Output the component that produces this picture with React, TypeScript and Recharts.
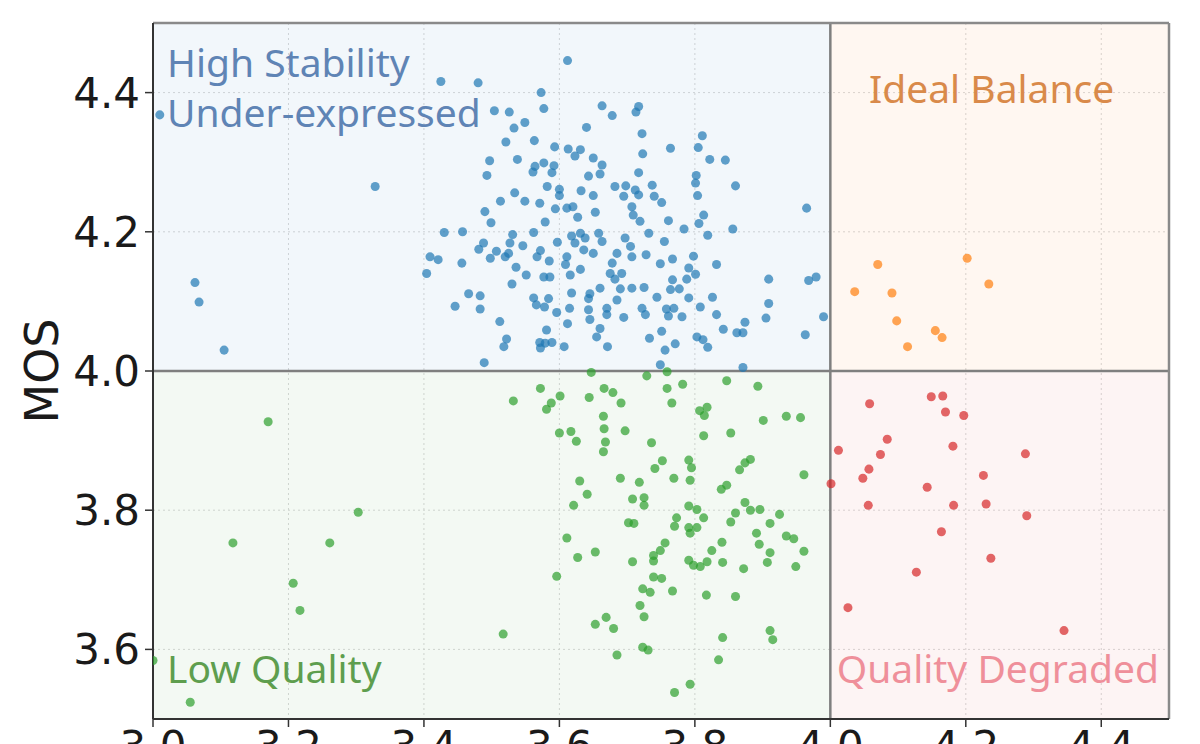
import { ScatterChart, Scatter, XAxis, YAxis, CartesianGrid, ReferenceArea, ReferenceLine } from "recharts";

// axis ticks
const xTicks = [3.0, 3.2, 3.4, 3.6, 3.8, 4.0, 4.2, 4.4];
const yTicks = [3.6, 3.8, 4.0, 4.2, 4.4];

// [stability, MOS]
const highStability: [number, number][] = [
  [3.010, 4.368], [3.062, 4.127], [3.068, 4.099], [3.105, 4.030], [3.328, 4.265],
  [3.425, 4.416], [3.480, 4.414], [3.612, 4.446], [3.573, 4.400], [3.577, 4.377], [3.504, 4.374],
  [3.526, 4.372], [3.663, 4.381], [3.678, 4.367], [3.549, 4.357], [3.533, 4.349], [3.640, 4.350],
  [3.521, 4.329], [3.563, 4.331], [3.593, 4.322], [3.613, 4.319], [3.631, 4.318], [3.623, 4.309],
  [3.650, 4.306], [3.497, 4.302], [3.538, 4.304], [3.564, 4.294], [3.577, 4.299], [3.592, 4.295],
  [3.561, 4.286], [3.589, 4.285], [3.663, 4.296], [3.660, 4.283], [3.493, 4.281], [3.643, 4.280],
  [3.582, 4.265], [3.600, 4.261], [3.600, 4.252], [3.632, 4.259], [3.650, 4.252], [3.682, 4.265],
  [3.534, 4.256],
  [3.717, 4.380], [3.713, 4.372], [3.722, 4.341], [3.764, 4.320], [3.811, 4.338], [3.805, 4.321],
  [3.822, 4.304], [3.845, 4.303], [3.723, 4.312], [3.717, 4.285], [3.802, 4.281], [3.801, 4.270],
  [3.860, 4.266], [3.698, 4.266], [3.737, 4.267], [3.712, 4.260], [3.717, 4.253], [3.695, 4.251],
  [3.740, 4.251], [3.804, 4.252],
  [3.490, 4.229], [3.499, 4.213], [3.513, 4.244], [3.549, 4.244], [3.571, 4.241], [3.594, 4.233],
  [3.611, 4.234], [3.620, 4.236], [3.579, 4.214], [3.627, 4.221], [3.653, 4.228], [3.430, 4.199],
  [3.457, 4.200], [3.531, 4.196], [3.562, 4.199], [3.631, 4.198], [3.618, 4.194], [3.638, 4.191],
  [3.658, 4.198], [3.488, 4.184], [3.481, 4.175], [3.527, 4.184], [3.546, 4.180], [3.597, 4.185],
  [3.623, 4.184], [3.663, 4.186], [3.507, 4.172], [3.525, 4.169], [3.498, 4.162], [3.520, 4.164],
  [3.572, 4.173], [3.567, 4.164], [3.585, 4.158], [3.611, 4.164], [3.636, 4.174], [3.650, 4.169],
  [3.685, 4.169], [3.409, 4.164], [3.421, 4.160], [3.456, 4.155], [3.404, 4.140], [3.536, 4.149],
  [3.609, 4.153], [3.631, 4.146], [3.678, 4.155], [3.551, 4.138], [3.577, 4.135], [3.586, 4.135],
  [3.616, 4.138], [3.675, 4.140], [3.682, 4.132], [3.530, 4.125], [3.660, 4.119], [3.690, 4.118],
  [3.466, 4.111], [3.483, 4.108], [3.618, 4.112], [3.645, 4.111], [3.562, 4.105], [3.584, 4.104],
  [3.643, 4.104], [3.685, 4.102], [3.446, 4.093], [3.483, 4.089], [3.566, 4.095], [3.578, 4.092],
  [3.615, 4.090], [3.596, 4.084], [3.643, 4.088], [3.670, 4.090], [3.670, 4.081], [3.645, 4.074],
  [3.612, 4.068], [3.512, 4.071], [3.660, 4.061], [3.581, 4.059], [3.522, 4.046], [3.518, 4.035],
  [3.571, 4.041], [3.579, 4.040], [3.589, 4.041], [3.572, 4.033], [3.607, 4.035], [3.655, 4.049],
  [3.671, 4.035], [3.489, 4.012],
  [3.707, 4.236], [3.751, 4.242], [3.709, 4.224], [3.719, 4.215], [3.761, 4.216], [3.813, 4.224],
  [3.806, 4.212], [3.784, 4.204], [3.856, 4.204], [3.965, 4.234], [3.732, 4.198], [3.819, 4.195],
  [3.697, 4.191], [3.755, 4.186], [3.705, 4.179], [3.707, 4.164], [3.728, 4.167], [3.767, 4.161],
  [3.798, 4.165], [3.749, 4.154], [3.832, 4.153], [3.791, 4.148], [3.801, 4.139], [3.692, 4.140],
  [3.767, 4.131], [3.788, 4.132], [3.909, 4.132], [3.968, 4.130], [3.979, 4.135], [3.707, 4.119],
  [3.725, 4.120], [3.764, 4.117], [3.777, 4.118], [3.744, 4.106], [3.791, 4.105], [3.826, 4.106],
  [3.909, 4.097], [3.722, 4.090], [3.758, 4.089], [3.769, 4.090], [3.808, 4.092], [3.695, 4.077],
  [3.727, 4.081], [3.761, 4.079], [3.781, 4.078], [3.832, 4.081], [3.990, 4.078], [3.905, 4.076],
  [3.874, 4.070], [3.842, 4.060], [3.862, 4.055], [3.871, 4.055], [3.751, 4.057], [3.733, 4.047],
  [3.771, 4.039], [3.803, 4.049], [3.812, 4.045], [3.819, 4.034], [3.756, 4.030], [3.963, 4.052],
  [3.749, 4.009], [3.871, 4.005],
];

const idealBalance: [number, number][] = [
  [4.070, 4.153], [4.202, 4.162], [4.036, 4.114], [4.091, 4.112], [4.234, 4.125],
  [4.098, 4.072], [4.155, 4.058], [4.165, 4.048], [4.114, 4.035],
];

const lowQuality: [number, number][] = [
  [3.000, 3.584], [3.055, 3.524], [3.118, 3.753], [3.170, 3.927], [3.207, 3.695], [3.217, 3.656],
  [3.261, 3.753], [3.303, 3.797], [3.759, 3.999],
  [3.532, 3.957], [3.572, 3.975], [3.601, 3.964], [3.588, 3.954], [3.581, 3.945], [3.644, 3.962],
  [3.666, 3.975], [3.679, 3.969], [3.691, 3.954], [3.647, 3.998], [3.729, 3.993], [3.759, 3.975],
  [3.766, 3.954], [3.665, 3.935], [3.666, 3.917], [3.697, 3.914], [3.600, 3.911], [3.617, 3.913],
  [3.625, 3.899], [3.668, 3.898], [3.665, 3.884], [3.736, 3.897], [3.752, 3.871], [3.741, 3.860],
  [3.769, 3.846], [3.630, 3.842], [3.690, 3.846], [3.718, 3.840], [3.641, 3.823], [3.708, 3.816],
  [3.725, 3.818], [3.725, 3.807], [3.621, 3.807], [3.702, 3.782], [3.710, 3.781], [3.773, 3.789],
  [3.770, 3.777], [3.611, 3.760], [3.756, 3.753],
  [3.782, 3.981], [3.847, 3.986], [3.893, 3.978], [3.807, 3.943], [3.818, 3.948], [3.814, 3.936],
  [3.901, 3.929], [3.935, 3.935], [3.956, 3.933], [3.813, 3.907], [3.853, 3.911], [3.791, 3.872],
  [3.795, 3.861], [3.882, 3.873], [3.874, 3.868], [3.866, 3.858], [3.793, 3.843], [3.961, 3.851],
  [3.847, 3.836], [3.839, 3.830], [3.874, 3.811], [3.882, 3.800], [3.896, 3.801], [3.860, 3.796],
  [3.791, 3.806], [3.803, 3.801], [3.813, 3.789], [3.925, 3.794], [3.853, 3.783], [3.911, 3.781],
  [3.791, 3.775], [3.803, 3.775], [3.793, 3.767], [3.891, 3.767], [3.935, 3.763], [3.946, 3.759],
  [3.840, 3.754], [3.895, 3.751],
  [3.627, 3.732], [3.653, 3.740], [3.596, 3.705], [3.708, 3.726], [3.739, 3.735], [3.739, 3.727],
  [3.749, 3.742], [3.791, 3.728], [3.798, 3.721], [3.808, 3.719], [3.818, 3.726], [3.825, 3.742],
  [3.841, 3.725], [3.872, 3.716], [3.911, 3.739], [3.907, 3.725], [3.961, 3.741], [3.949, 3.719],
  [3.739, 3.704], [3.751, 3.702], [3.723, 3.687], [3.734, 3.682], [3.767, 3.684], [3.817, 3.678],
  [3.860, 3.676], [3.719, 3.663], [3.725, 3.647], [3.669, 3.646], [3.653, 3.636], [3.680, 3.630],
  [3.517, 3.622], [3.911, 3.627], [3.915, 3.614], [3.841, 3.617], [3.723, 3.603], [3.731, 3.599],
  [3.685, 3.592], [3.835, 3.585], [3.793, 3.550], [3.770, 3.538],
];

const qualityDegraded: [number, number][] = [
  [4.058, 3.953], [4.149, 3.963], [4.166, 3.964], [4.170, 3.941], [4.197, 3.936], [4.084, 3.902],
  [4.012, 3.886], [4.074, 3.880], [4.181, 3.892], [4.288, 3.881], [4.057, 3.859], [4.048, 3.846],
  [4.226, 3.850], [4.001, 3.838], [4.143, 3.833], [4.056, 3.807], [4.182, 3.807], [4.230, 3.809],
  [4.290, 3.792], [4.164, 3.769], [4.237, 3.731], [4.127, 3.711], [4.026, 3.660], [4.345, 3.627],
];

const toPoints = (arr: [number, number][]) => arr.map(([x, y]) => ({ x, y }));

const labelFont = "'Noto Sans', 'Open Sans', sans-serif";
const tickFont = "'DejaVu Sans', sans-serif";

export default function App() {
  return (
    <div style={{ position: "absolute", left: 0, top: 0, width: 1200, height: 744, background: "#fff" }}>
      <ScatterChart width={1200} height={744} margin={{ top: 23, right: 31, bottom: 0, left: 0 }}>
        <ReferenceArea
          x1={3.0} x2={4.0} y1={4.0} y2={4.5}
          fill="#1f77b4" fillOpacity={0.06} stroke="none"
          label={(p: any) => {
            const vb = p.viewBox;
            return (
              <g fontFamily={labelFont} fontSize={39} fill="#5f84b5">
                <text x={vb.x + 14} y={vb.y + 54}>High Stability</text>
                <text x={vb.x + 14} y={vb.y + 104}>Under-expressed</text>
              </g>
            );
          }}
        />
        <ReferenceArea
          x1={4.0} x2={4.5} y1={4.0} y2={4.5}
          fill="#ff7f0e" fillOpacity={0.06} stroke="none"
          label={(p: any) => {
            const vb = p.viewBox;
            return (
              <text x={vb.x + vb.width / 2 - 8} y={vb.y + 80} textAnchor="middle" fontFamily={labelFont} fontSize={39} fill="#d98a4a">
                Ideal Balance
              </text>
            );
          }}
        />
        <ReferenceArea
          x1={3.0} x2={4.0} y1={3.5} y2={4.0}
          fill="#2ca02c" fillOpacity={0.06} stroke="none"
          label={(p: any) => {
            const vb = p.viewBox;
            return (
              <text x={vb.x + 14} y={vb.y + vb.height - 36} fontFamily={labelFont} fontSize={39} fill="#5e9e4e">
                Low Quality
              </text>
            );
          }}
        />
        <ReferenceArea
          x1={4.0} x2={4.5} y1={3.5} y2={4.0}
          fill="#d62728" fillOpacity={0.05} stroke="none"
          label={(p: any) => {
            const vb = p.viewBox;
            return (
              <text x={vb.x + vb.width - 10} y={vb.y + vb.height - 36} textAnchor="end" fontFamily={labelFont} fontSize={39} fill="#ef8f9a">
                Quality Degraded
              </text>
            );
          }}
        />
        <CartesianGrid stroke="#d8d8d8" strokeDasharray="2 3" horizontalValues={yTicks} verticalValues={xTicks} />
        <XAxis
          type="number"
          dataKey="x"
          domain={[3.0, 4.5]}
          ticks={xTicks}
          allowDataOverflow
          height={25}
          tickSize={8}
          tickMargin={4}
          tickFormatter={(v) => Number(v).toFixed(1)}
          tick={{ fontSize: 42, fill: "#1a1a1a", fontFamily: tickFont }}
          axisLine={{ stroke: "#333", strokeWidth: 2 }}
          tickLine={{ stroke: "#333", strokeWidth: 1.5 }}
        />
        <YAxis
          type="number"
          dataKey="y"
          domain={[3.5, 4.5]}
          ticks={yTicks}
          allowDataOverflow
          width={153}
          tickSize={8}
          tickMargin={5}
          tickFormatter={(v) => Number(v).toFixed(1)}
          tick={{ fontSize: 42, fill: "#1a1a1a", fontFamily: tickFont }}
          axisLine={{ stroke: "#333", strokeWidth: 2 }}
          tickLine={{ stroke: "#333", strokeWidth: 1.5 }}
          label={(p: any) => {
            const vb = p.viewBox;
            const cx = 42;
            const cy = vb.y + vb.height / 2;
            return (
              <text x={cx} y={cy} transform={`rotate(-90 ${cx} ${cy})`} textAnchor="middle" dominantBaseline="central" fontFamily={tickFont} fontSize={46} fill="#1a1a1a">
                MOS
              </text>
            );
          }}
        />
        <ReferenceLine x={4.0} stroke="#7f7f7f" strokeWidth={2.5} />
        <ReferenceLine y={4.0} stroke="#7f7f7f" strokeWidth={2.5} />
        <ReferenceLine x={4.5} stroke="#8a8a8a" strokeWidth={2.5} />
        <ReferenceLine y={4.5} stroke="#8a8a8a" strokeWidth={2.5} />
        <Scatter data={toPoints(highStability)} fill="#1f77b4" fillOpacity={0.7} isAnimationActive={false} />
        <Scatter data={toPoints(idealBalance)} fill="#ff7f0e" fillOpacity={0.7} isAnimationActive={false} />
        <Scatter data={toPoints(lowQuality)} fill="#2ca02c" fillOpacity={0.7} isAnimationActive={false} />
        <Scatter data={toPoints(qualityDegraded)} fill="#d62728" fillOpacity={0.7} isAnimationActive={false} />
      </ScatterChart>
    </div>
  );
}
